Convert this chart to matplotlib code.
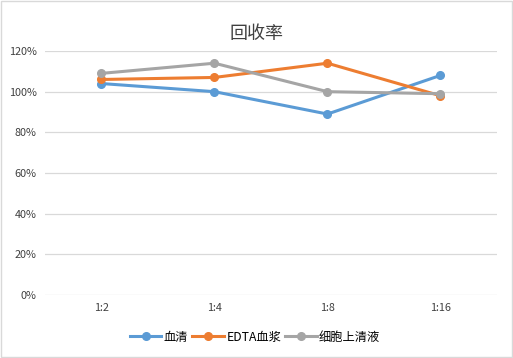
import matplotlib
matplotlib.use("Agg")
from matplotlib import pyplot as plt
from matplotlib.ticker import FuncFormatter

plt.rcParams['font.family'] = ['Noto Sans CJK SC', 'DejaVu Sans']

# 稀释比例
categories = ['1:2', '1:4', '1:8', '1:16']
# 回收率 (%)
xueqing = [104, 100, 89, 108]
edta = [106, 107, 114, 98]
xibao = [109, 114, 100, 99]
labels = ['血清', 'EDTA血浆', '细胞上清液']
colors = ['#5B9BD5', '#ED7D31', '#A5A5A5']

fig = plt.figure(figsize=(5.13, 3.58), dpi=100)
ax = fig.add_axes([0.0877, 0.176, 0.881, 0.6815])

x = list(range(len(categories)))
for vals, lab, c in zip([xueqing, edta, xibao], labels, colors):
    ax.plot(x, vals, color=c, lw=2.2, marker='o', markersize=5.5, label=lab)

ax.set_xlim(-0.5, len(categories) - 0.5)
ax.set_ylim(0, 120)
ax.set_yticks(range(0, 121, 20))
ax.yaxis.set_major_formatter(FuncFormatter(lambda v, p: '%d%%' % v))
ax.set_xticks(x)
ax.set_xticklabels(categories)
ax.tick_params(axis='both', length=0, labelsize=7.8, colors='#404040', pad=6)
ax.grid(axis='y', color='#D9D9D9', lw=0.9)
ax.set_axisbelow(True)
for s in ax.spines.values():
    s.set_visible(False)

fig.text(0.5, 0.905, '回收率', ha='center', va='center', fontsize=13, color='#404040')

fig.legend(loc='center', bbox_to_anchor=(0.497, 0.058), ncol=3, frameon=False,
           fontsize=8.8, handlelength=2.6, columnspacing=0.3, handletextpad=0.2)

# 外框
fig.patches.append(plt.Rectangle((0.002, 0.003), 0.996, 0.994, transform=fig.transFigure,
                                 fill=False, edgecolor='#D9D9D9', lw=1))

fig.savefig('out.png', dpi=100)
